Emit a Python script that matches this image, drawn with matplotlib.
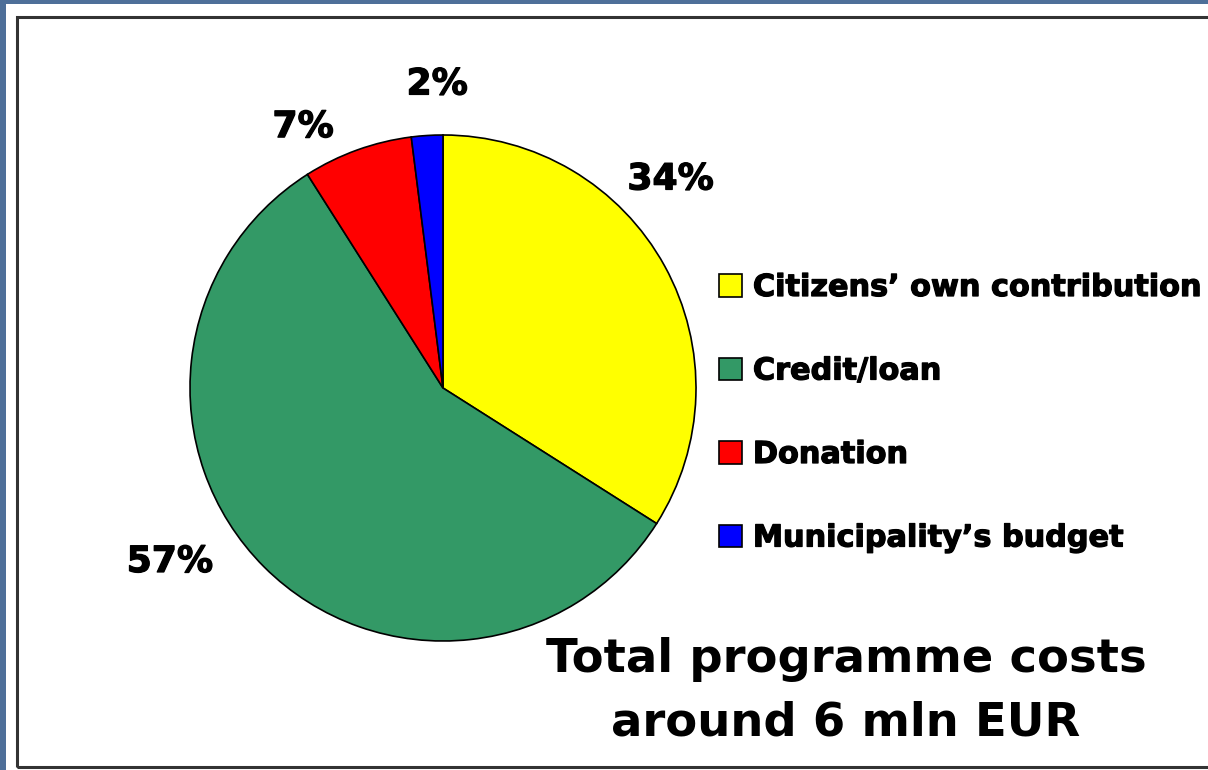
import numpy as np
import matplotlib.pyplot as plt
import matplotlib.patheffects as pe
from matplotlib.patches import Rectangle

# data
labels = ["Citizens\u2019 own contribution", "Credit/loan", "Donation", "Municipality\u2019s budget"]
shares = [34, 57, 7, 2]
colors = ["#FFFF00", "#339966", "#FF0000", "#0000FF"]

# where the percentage labels sit (angle in deg, distance in radii)
label_pos = [(42.5, 1.22), (212.5, 1.28), (118.2, 1.17), (91.1, 1.20)]

W, H = 1208, 770
fig = plt.figure(figsize=(W / 100, H / 100), dpi=100)
fig.patch.set_facecolor("#4E6F99")

# white slide area and the black frame (kept under the axes)
fig.patches.append(Rectangle((6 / W, 0), 1, (H - 4) / H, transform=fig.transFigure,
                             facecolor="white", edgecolor="none", zorder=-3))
fig.patches.append(Rectangle((17 / W, 3 / H), 1.2, (H - 17 - 3) / H, transform=fig.transFigure,
                             facecolor="none", edgecolor="#333333", linewidth=2.2, zorder=-2))

# heavier look, like Arial Black
heavy = [pe.withStroke(linewidth=0.9, foreground="black")]

# pie axes: centre (443, 388) px, radius 253 px
cx, cy, r = 443, 388, 253
ax = fig.add_axes([(cx - r) / W, (H - cy - r) / H, 2 * r / W, 2 * r / H])
wedges, _ = ax.pie(shares, colors=colors, startangle=90, counterclock=False,
                   wedgeprops=dict(edgecolor="black", linewidth=1.2))
ax.set_xlim(-1, 1)
ax.set_ylim(-1, 1)
ax.set_aspect("equal")
ax.axis("off")

for v, (ang, dist) in zip(shares, label_pos):
    a = np.deg2rad(ang)
    ax.text(dist * np.cos(a), dist * np.sin(a), f"{v}%", ha="center", va="center",
            fontsize=26, fontweight="bold", family="DejaVu Sans", clip_on=False,
            path_effects=heavy)

leg = fig.legend(wedges, labels, loc="upper left",
                 bbox_to_anchor=(719 / W, (H - 273) / H),
                 frameon=False, borderpad=0, borderaxespad=0,
                 handlelength=0.77, handleheight=0.77, handletextpad=0.35,
                 labelspacing=1.8,
                 prop=dict(family="DejaVu Sans", weight="bold", size=21.8))
for h in leg.legend_handles:
    h.set_edgecolor("black")
    h.set_linewidth(1.2)
for t in leg.get_texts():
    t.set_path_effects(heavy)

fig.text(846 / W, (H - 672) / H, "Total programme costs", ha="center", va="baseline",
         fontsize=33.5, fontweight="bold", family="DejaVu Sans")
fig.text(846 / W, (H - 735) / H, "around 6 mln EUR", ha="center", va="baseline",
         fontsize=33.5, fontweight="bold", family="DejaVu Sans")

fig.savefig("out.png", dpi=100, facecolor=fig.get_facecolor())
